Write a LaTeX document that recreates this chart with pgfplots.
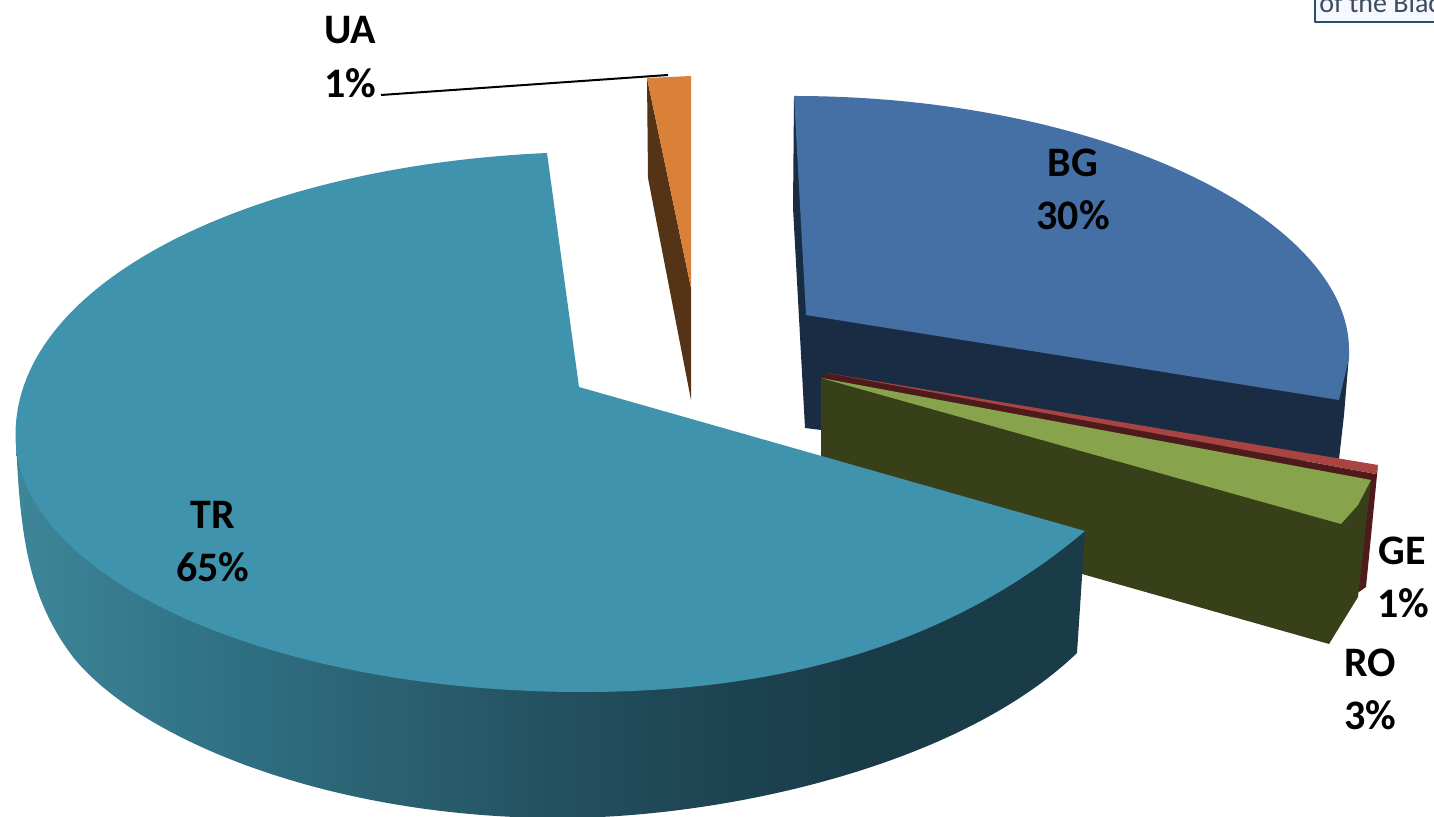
\documentclass[border=0pt]{standalone}
\usepackage{fontspec}
\setmainfont{Carlito}
\usepackage{pgfplots}
\pgfplotsset{compat=1.18}
\definecolor{trtop}{HTML}{4093AD}
\definecolor{bgtop}{HTML}{4570A5}
\definecolor{bgside}{HTML}{1A2C43}
\definecolor{getop}{HTML}{A94442}
\definecolor{geside}{HTML}{4F1A1C}
\definecolor{rotop}{HTML}{87A34B}
\definecolor{roside}{HTML}{384019}
\definecolor{uatop}{HTML}{D98139}
\definecolor{uaside}{HTML}{553316}
\definecolor{boxline}{HTML}{24506E}
\definecolor{boxtext}{HTML}{3A4C5E}
\definecolor{trA}{HTML}{3D8698}
\definecolor{trB}{HTML}{35798C}
\definecolor{trC}{HTML}{2F6E81}
\definecolor{trD}{HTML}{2A6070}
\definecolor{trE}{HTML}{23505F}
\definecolor{trF}{HTML}{1E4553}
\definecolor{trG}{HTML}{1A3C49}
\pgfdeclarehorizontalshading{trside}{100bp}{color(0bp)=(trA); color(25bp)=(trA); color(30.8bp)=(trB); color(36bp)=(trC); color(43bp)=(trD); color(50.5bp)=(trE); color(57bp)=(trF); color(64bp)=(trG); color(100bp)=(trG)}
\newcommand{\lab}{\fontsize{21}{25}\bfseries\selectfont}
\begin{document}
\begin{tikzpicture}
\begin{axis}[scale only axis,width=717pt,height=408.5pt,
  xmin=0,xmax=1434,ymin=0,ymax=817,y dir=reverse,
  axis lines=none,clip=true,
  every axis plot/.append style={line join=round}]
% fragment of the box at the top right
\addplot[draw=none,fill=blue!3] coordinates {(1315,0)(1434,0)(1434,23)(1315,23)} -- cycle;
\addplot[boxline,line width=1.4pt] coordinates {(1315,0)(1315,22)(1434,22)};
% UA
\addplot[draw=none,fill=uaside] coordinates {(647,78)(691,288)(691,400)(648,178)} -- cycle;
\addplot[draw=none,fill=uatop] coordinates {(647,78)(691,76)(691,288)} -- cycle;
\addplot[black,line width=1pt] coordinates {(381,95)(668,75)};
% BG
\addplot[draw=none,fill=bgside] coordinates {(794,97)(793,208)(805,428)(821,430)(1100,470)(1339,459)(1344,415)(1349,355)} -- cycle;
\addplot[draw=none,fill=bgtop] coordinates {(794,96)} .. controls (axis cs:1100,96) and (axis cs:1349,218) .. (axis cs:1349,350) -- (axis cs:1349,358) -- (axis cs:1339,400) -- (axis cs:806,315) -- cycle;
% GE
\addplot[draw=none,fill=geside] coordinates {(827,373)(1376,474)(1378,465)(1366,587)(1359,592)(1300,560)(821,378)} -- cycle;
\addplot[draw=none,fill=getop] coordinates {(827,373)(1378,465)(1376,474)} -- cycle;
% RO
\addplot[draw=none,fill=roside] coordinates {(821,378)(1371,480)(1358,597)(1329,644)(821,500)} -- cycle;
\addplot[draw=none,fill=rotop] coordinates {(821,378)(1371,480)(1358,505)(1341,524)} -- cycle;
% TR side
\addplot[draw=none,shade,shading=trside] coordinates {(16,440)} .. controls (axis cs:20,540) and (axis cs:30,600) .. (axis cs:73,657) .. controls (axis cs:140,740) and (axis cs:330,818) .. (axis cs:560,818) .. controls (axis cs:720,818) and (axis cs:957,768) .. (axis cs:1077,653) -- (axis cs:1085,531) -- (axis cs:579,400) -- cycle;
% TR top
\addplot[draw=none,fill=trtop] coordinates {(547,153)} .. controls (axis cs:255,166) and (axis cs:15.5,280) .. (axis cs:15.5,435) .. controls (axis cs:15.5,578) and (axis cs:271,692) .. (axis cs:582,692) .. controls (axis cs:752,692) and (axis cs:935,658) .. (axis cs:1085,531) -- (axis cs:579,387) -- cycle;
% labels
\node[font=\lab] at (axis cs:350,30) {UA};
\node[font=\lab] at (axis cs:350,83) {1\%};
\node[font=\lab] at (axis cs:1073,163) {BG};
\node[font=\lab] at (axis cs:1073,215) {30\%};
\node[font=\lab] at (axis cs:213,515) {TR};
\node[font=\lab] at (axis cs:213,567) {65\%};
\node[font=\lab] at (axis cs:1402,551) {GE};
\node[font=\lab] at (axis cs:1403,603) {1\%};
\node[font=\lab] at (axis cs:1370,663) {RO};
\node[font=\lab] at (axis cs:1370,715) {3\%};
\node[font=\fontsize{14}{16}\selectfont,text=boxtext,anchor=base west,inner sep=0pt] at (axis cs:1319,13) {of the Blac};
\end{axis}
\pgfresetboundingbox
\path[use as bounding box] (0,0) rectangle (717pt,408.5pt);
\end{tikzpicture}
\end{document}
